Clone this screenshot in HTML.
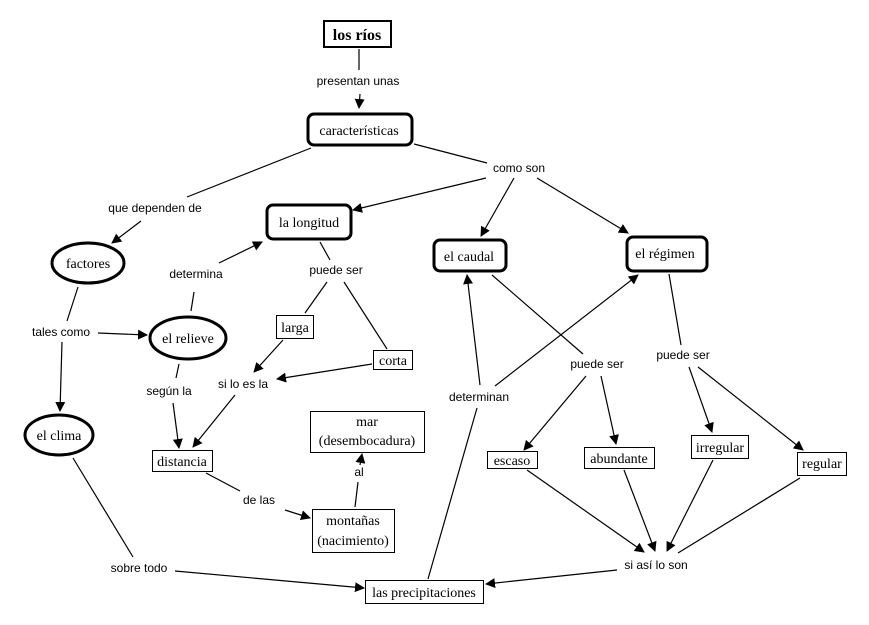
<!DOCTYPE html>
<html><head><meta charset="utf-8"><style>
body{margin:0;background:#fff}
svg{display:block}
line{stroke:#000;stroke-width:1.2}
</style></head><body>
<svg width="869" height="625" viewBox="0 0 869 625" xmlns="http://www.w3.org/2000/svg">
<defs><marker id="a" markerWidth="10" markerHeight="10" refX="9" refY="5" orient="auto" markerUnits="userSpaceOnUse"><path d="M0,0 L10,5 L0,10 z" fill="#000"/></marker></defs>
<rect width="869" height="625" fill="#fff"/>
<g fill="none" stroke="#000">
<line x1="359" y1="49" x2="359" y2="70"/>
<line x1="360" y1="94" x2="359" y2="108" marker-end="url(#a)"/>
<line x1="311" y1="148" x2="187" y2="197"/>
<line x1="141" y1="221" x2="112" y2="243" marker-end="url(#a)"/>
<line x1="414" y1="144" x2="487" y2="163"/>
<line x1="486" y1="178" x2="353" y2="210" marker-end="url(#a)"/>
<line x1="514" y1="178" x2="481" y2="236" marker-end="url(#a)"/>
<line x1="537" y1="178" x2="628" y2="233" marker-end="url(#a)"/>
<line x1="320" y1="242" x2="330" y2="260"/>
<line x1="327" y1="282" x2="305" y2="313"/>
<line x1="344" y1="282" x2="387" y2="349"/>
<line x1="283" y1="340" x2="254" y2="372" marker-end="url(#a)"/>
<line x1="372" y1="364" x2="277" y2="379" marker-end="url(#a)"/>
<line x1="235" y1="395" x2="193" y2="447" marker-end="url(#a)"/>
<line x1="179" y1="364" x2="176" y2="378"/>
<line x1="173" y1="403" x2="179" y2="448" marker-end="url(#a)"/>
<line x1="78" y1="287" x2="67" y2="321"/>
<line x1="62" y1="342" x2="60" y2="411" marker-end="url(#a)"/>
<line x1="98" y1="333" x2="147" y2="335" marker-end="url(#a)"/>
<line x1="191" y1="311" x2="194" y2="292"/>
<line x1="219" y1="263" x2="262" y2="242" marker-end="url(#a)"/>
<line x1="206" y1="473" x2="240" y2="491"/>
<line x1="285" y1="510" x2="310" y2="518" marker-end="url(#a)"/>
<line x1="355" y1="507" x2="358" y2="482"/>
<line x1="360" y1="465" x2="362" y2="454" marker-end="url(#a)"/>
<line x1="73" y1="458" x2="133" y2="557"/>
<line x1="175" y1="571" x2="364" y2="588" marker-end="url(#a)"/>
<line x1="428" y1="579" x2="477" y2="408"/>
<line x1="480" y1="385" x2="467" y2="275" marker-end="url(#a)"/>
<line x1="495" y1="386" x2="638" y2="275" marker-end="url(#a)"/>
<line x1="492" y1="275" x2="583" y2="354"/>
<line x1="586" y1="376" x2="524" y2="450" marker-end="url(#a)"/>
<line x1="601" y1="376" x2="616" y2="444" marker-end="url(#a)"/>
<line x1="669" y1="274" x2="681" y2="345"/>
<line x1="689" y1="367" x2="712" y2="432" marker-end="url(#a)"/>
<line x1="698" y1="367" x2="803" y2="450" marker-end="url(#a)"/>
<line x1="527" y1="470" x2="644" y2="552" marker-end="url(#a)"/>
<line x1="624" y1="470" x2="655" y2="551" marker-end="url(#a)"/>
<line x1="713" y1="460" x2="667" y2="551" marker-end="url(#a)"/>
<line x1="800" y1="478" x2="678" y2="553"/>
<line x1="617" y1="570" x2="486" y2="584" marker-end="url(#a)"/>
</g>
<g fill="#fff" stroke="#000">
<rect x="324" y="21" width="67" height="26" stroke-width="2"/>
<rect x="308" y="114" width="104" height="31" rx="6" stroke-width="3"/>
<rect x="267" y="205" width="84" height="34" rx="6" stroke-width="3"/>
<rect x="434" y="240" width="72" height="31" rx="6" stroke-width="3"/>
<rect x="627" y="237" width="80" height="34" rx="6" stroke-width="3"/>
<ellipse cx="88" cy="263" rx="36" ry="20" stroke-width="3"/>
<ellipse cx="188" cy="338" rx="38" ry="21" stroke-width="3"/>
<ellipse cx="59" cy="435" rx="34" ry="20" stroke-width="3"/>
<g stroke-width="1">
<rect x="276.5" y="315.5" width="37" height="23"/>
<rect x="373.5" y="350.5" width="39" height="19"/>
<rect x="152.5" y="450.5" width="60" height="21"/>
<rect x="310.5" y="411.5" width="114" height="41"/>
<rect x="312.5" y="509.5" width="82" height="43"/>
<rect x="365.5" y="580.5" width="118" height="23"/>
<rect x="487.5" y="451.5" width="50" height="17"/>
<rect x="584.5" y="447.5" width="70" height="21"/>
<rect x="691.5" y="435.5" width="57" height="23"/>
<rect x="797.5" y="452.5" width="49" height="23"/>
</g>
</g>
<g font-family="Liberation Serif, serif" font-size="14" text-anchor="middle" fill="#000">
<text x="357" y="40" font-weight="bold" font-size="16">los ríos</text>
<text x="359" y="135">características</text>
<text x="309" y="227">la longitud</text>
<text x="469" y="261">el caudal</text>
<text x="665" y="258">el régimen</text>
<text x="88" y="268">factores</text>
<text x="188" y="343">el relieve</text>
<text x="59" y="440">el clima</text>
<text x="295" y="332">larga</text>
<text x="393" y="365">corta</text>
<text x="182" y="466">distancia</text>
<text x="367" y="426">mar</text>
<text x="367" y="445">(desembocadura)</text>
<text x="353" y="525">montañas</text>
<text x="353" y="545">(nacimiento)</text>
<text x="424" y="597">las precipitaciones</text>
<text x="512" y="465">escaso</text>
<text x="619" y="463">abundante</text>
<text x="720" y="452">irregular</text>
<text x="822" y="468">regular</text>
</g>
<g font-family="Liberation Sans, sans-serif" font-size="12" text-anchor="middle" fill="#000">
<text x="358" y="85">presentan unas</text>
<text x="155" y="212">que dependen de</text>
<text x="519" y="172">como son</text>
<text x="196" y="278">determina</text>
<text x="336" y="274">puede ser</text>
<text x="61" y="336">tales como</text>
<text x="169" y="395">según la</text>
<text x="243" y="388">si lo es la</text>
<text x="259" y="504">de las</text>
<text x="359" y="476">al</text>
<text x="139" y="572">sobre todo</text>
<text x="597" y="368">puede ser</text>
<text x="683" y="359">puede ser</text>
<text x="479" y="401">determinan</text>
<text x="656" y="569">si así lo son</text>
</g>
</svg>
</body></html>
